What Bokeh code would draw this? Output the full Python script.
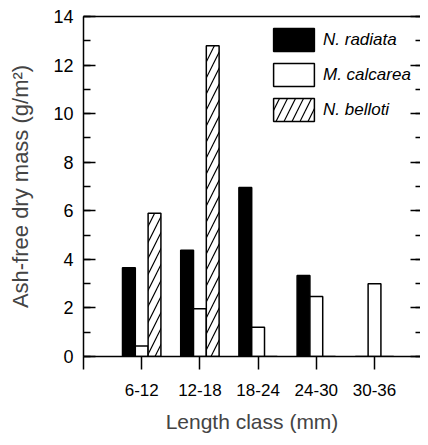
from bokeh.plotting import figure
from bokeh.models import (Range1d, LinearAxis, FixedTicker, SingleIntervalTicker,
                          ColumnDataSource, Legend, LegendItem, CustomJSTickFormatter)
from bokeh.embed import file_html
from bokeh.resources import INLINE

categories = ["6-12", "12-18", "18-24", "24-30", "30-36"]
n_radiata = [3.65, 4.38, 6.96, 3.34, 0.0]
m_calcarea = [0.43, 1.97, 1.2, 2.47, 3.0]
n_belloti = [5.9, 12.8, 0.0, 0.0, 0.0]

FONT = "Liberation Sans"
pos = list(range(1, len(categories) + 1))

p = figure(width=420, height=437, output_backend="svg", toolbar_location=None,
           x_range=Range1d(0, 5.79), y_range=Range1d(0, 14),
           x_axis_type=None, y_axis_type=None,
           min_border_left=83, min_border_right=0, min_border_top=16, min_border_bottom=81)
p.outline_line_color = None
p.grid.visible = False
p.background_fill_color = "white"
p.border_fill_color = "white"

off = 0.22
w = 0.22
src = ColumnDataSource(dict(x=pos, r=n_radiata, m=m_calcarea, b=n_belloti,
                            xr=[v - off for v in pos], xb=[v + off for v in pos]))

r1 = p.vbar(x="xr", top="r", width=w, source=src, fill_color="black",
            line_color="black", line_width=1.5)
r2 = p.vbar(x="x", top="m", width=w, source=src, fill_color="white",
            line_color="black", line_width=1.5)
r3 = p.vbar(x="xb", top="b", width=w, source=src, fill_color="white",
            line_color="black", line_width=1.5, hatch_pattern="/",
            hatch_color="black", hatch_scale=16, hatch_weight=1.2)

# y axes
yt = SingleIntervalTicker(interval=2, num_minor_ticks=2)
yl = LinearAxis(ticker=yt)
yl.major_tick_in = 12
yl.major_tick_out = 0
yl.minor_tick_in = 7
yl.minor_tick_out = 0
yl.major_label_standoff = 10
yl.major_label_text_font = FONT
yl.major_label_text_font_size = "18px"
yl.major_label_text_color = "black"
yl.axis_label = "Ash-free dry mass (g/m²)"
yl.axis_label_text_font = FONT
yl.axis_label_text_font_size = "22px"
yl.axis_label_text_font_style = "normal"
yl.axis_label_standoff = 17
yl.axis_line_width = 1.5
yl.major_tick_line_width = 1.5
yl.minor_tick_line_width = 1.5
p.add_layout(yl, "left")

empty = CustomJSTickFormatter(code="return ''")
yr = LinearAxis(ticker=SingleIntervalTicker(interval=2, num_minor_ticks=2), formatter=empty)
yr.major_tick_in = 10
yr.major_tick_out = 0
yr.minor_tick_in = 5
yr.minor_tick_out = 0
yr.major_label_standoff = 0
yr.axis_line_color = None
yr.major_tick_line_width = 1.5
yr.minor_tick_line_width = 1.5
p.add_layout(yr, "right")

# x axes
xb = LinearAxis(ticker=FixedTicker(ticks=[0] + pos))
xb.major_label_overrides = {0: ""} | {i: c for i, c in zip(pos, categories)}
xb.major_tick_in = 0
xb.major_tick_out = 13
xb.minor_tick_line_color = None
xb.major_label_standoff = 14
xb.major_label_text_font = FONT
xb.major_label_text_font_size = "17px"
xb.major_label_text_color = "black"
xb.axis_label = "Length class (mm)"
xb.axis_label_text_font = FONT
xb.axis_label_text_font_size = "21px"
xb.axis_label_text_font_style = "normal"
xb.axis_label_standoff = 11
xb.axis_line_width = 1.5
xb.major_tick_line_width = 1.5
p.add_layout(xb, "below")

xt = LinearAxis(ticker=FixedTicker(ticks=[]), formatter=empty)
xt.major_tick_in = 0
xt.major_tick_out = 0
xt.minor_tick_line_color = None
xt.major_label_standoff = 0
xt.axis_line_width = 1.5
p.add_layout(xt, "above")

legend = Legend(items=[LegendItem(label="N. radiata", renderers=[r1]),
                       LegendItem(label="M. calcarea", renderers=[r2]),
                       LegendItem(label="N. belloti", renderers=[r3])],
                location=(185, 232))
legend.glyph_width = 51
legend.glyph_height = 29
legend.label_height = 29
legend.spacing = 6
legend.padding = 0
legend.margin = 0
legend.label_standoff = 4
legend.border_line_color = None
legend.background_fill_alpha = 0
legend.label_text_font = FONT
legend.label_text_font_size = "17px"
legend.label_text_font_style = "italic"
legend.label_text_color = "black"
p.add_layout(legend, "center")

open("out.html", "w").write(file_html(p, INLINE))
